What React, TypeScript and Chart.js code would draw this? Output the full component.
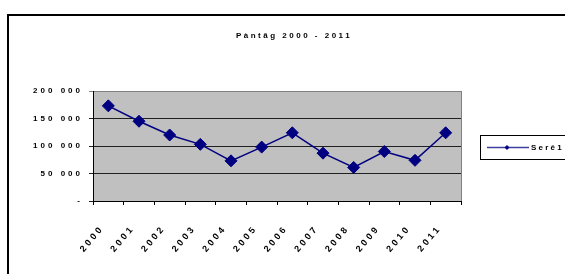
import React, { useEffect, useRef } from "react";
import { Chart, registerables } from "chart.js";

Chart.register(...registerables);

const categories = ["2000", "2001", "2002", "2003", "2004", "2005", "2006", "2007", "2008", "2009", "2010", "2011"];
const seriesValues = [173000, 145000, 120000, 103000, 73000, 98000, 124000, 87000, 61000, 90000, 74000, 124000];
const yTickValues = [0, 50000, 100000, 150000, 200000];
const yTickLabels = ["-", "50 000", "100 000", "150 000", "200 000"];
const seriesName = "Serê1";
const chartTitle = "Pàntăg 2000 - 2011";

const FONT = "'Liberation Sans', Arial, sans-serif";

export default function App() {
  const ref = useRef<HTMLCanvasElement | null>(null);

  useEffect(() => {
    const canvas = ref.current;
    if (!canvas) return;

    const decor = {
      id: "decor",
      beforeDraw(chart: any) {
        const ctx = chart.ctx;
        const a = chart.chartArea;
        ctx.save();
        ctx.fillStyle = "#ffffff";
        ctx.fillRect(0, 0, chart.width, chart.height);
        // outer frame
        ctx.fillStyle = "#000000";
        ctx.fillRect(7, 14, 2, chart.height);
        ctx.fillRect(7, 14, chart.width, 2);
        // plot background
        ctx.fillStyle = "#c0c0c0";
        ctx.fillRect(a.left, a.top, a.right - a.left, a.bottom - a.top);
        ctx.strokeStyle = "#808080";
        ctx.lineWidth = 1;
        ctx.beginPath();
        ctx.moveTo(a.right + 0.5, a.top);
        ctx.lineTo(a.right + 0.5, a.bottom);
        ctx.stroke();
        ctx.restore();
        ctx.letterSpacing = "3px";
      },
      afterDraw(chart: any) {
        const ctx = chart.ctx;
        ctx.save();
        ctx.letterSpacing = "2.5px";
        ctx.fillStyle = "#000";
        ctx.font = `bold 8px ${FONT}`;
        ctx.textAlign = "center";
        ctx.textBaseline = "middle";
        ctx.fillText(chartTitle, 294, 36);
        // legend
        ctx.strokeStyle = "#000";
        ctx.lineWidth = 1;
        ctx.strokeRect(480.5, 135.5, 120, 24);
        ctx.strokeStyle = "#4040a0";
        ctx.lineWidth = 1.5;
        ctx.beginPath();
        ctx.moveTo(487, 147.5);
        ctx.lineTo(529, 147.5);
        ctx.stroke();
        ctx.fillStyle = "#000080";
        ctx.beginPath();
        ctx.moveTo(507, 145);
        ctx.lineTo(509.5, 147.5);
        ctx.lineTo(507, 150);
        ctx.lineTo(504.5, 147.5);
        ctx.closePath();
        ctx.fill();
        ctx.fillStyle = "#000";
        ctx.textAlign = "left";
        ctx.letterSpacing = "2.2px";
        ctx.fillText(chart.data.datasets[0].label, 531, 148);
        ctx.restore();
        ctx.letterSpacing = "0px";
      },
    };

    const chart = new Chart(canvas, {
      type: "line",
      data: {
        labels: categories,
        datasets: [
          {
            label: seriesName,
            data: seriesValues,
            borderColor: "#000080",
            backgroundColor: "#000080",
            borderWidth: 1.5,
            pointStyle: "rectRot",
            pointRadius: 6,
            pointBorderWidth: 1,
            pointBackgroundColor: "#000080",
            pointBorderColor: "#000080",
            tension: 0,
          },
        ],
      },
      options: {
        responsive: false,
        animation: false,
        layout: { padding: { top: 91, right: 104, left: 0, bottom: 0 } },
        plugins: {
          legend: { display: false },
          title: { display: false },
          tooltip: { enabled: false },
        },
        scales: {
          x: {
            type: "category",
            offset: true,
            grid: {
              offset: true,
              drawOnChartArea: false,
              color: "#000",
              tickLength: 4,
            },
            border: { color: "#000", width: 1 },
            ticks: {
              color: "#000",
              font: { family: FONT, size: 9, weight: "bold" },
              maxRotation: 50,
              minRotation: 50,
              padding: 18,
              labelOffset: -6,
              autoSkip: false,
            },
            afterFit(scale: any) {
              scale.height = 73;
            },
          },
          y: {
            min: 0,
            max: 200000,
            afterBuildTicks(scale: any) {
              scale.ticks = yTickValues.map((v) => ({ value: v }));
            },
            grid: {
              color: (c: any) => (c.tick && c.tick.value === 200000 ? "#808080" : "#202020"),
              tickLength: 4,
              lineWidth: 1,
            },
            border: { color: "#000", width: 1 },
            ticks: {
              color: "#000",
              font: { family: FONT, size: 8, weight: "bold" },
              padding: 6,
              callback: (v: any) => {
                const i = yTickValues.indexOf(Number(v));
                return i >= 0 ? yTickLabels[i] : "";
              },
            },
            afterFit(scale: any) {
              scale.width = 93;
            },
          },
        },
      },
      plugins: [decor],
    });

    return () => chart.destroy();
  }, []);

  return (
    <div style={{ position: "absolute", left: 0, top: 0, width: 565, height: 274, background: "#fff" }}>
      <canvas ref={ref} width={565} height={274} style={{ display: "block", width: 565, height: 274 }} />
    </div>
  );
}
